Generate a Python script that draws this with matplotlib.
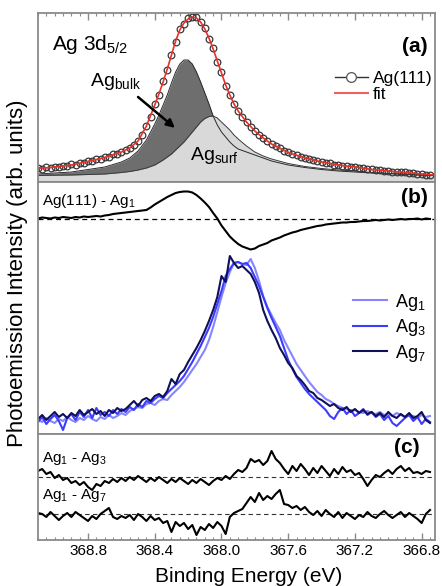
import numpy as np
import matplotlib
import matplotlib.pyplot as plt
from matplotlib.lines import Line2D
from matplotlib.ticker import MultipleLocator

matplotlib.use('Agg')
plt.rcParams['font.family'] = ['Liberation Sans', 'DejaVu Sans']
plt.rcParams['mathtext.default'] = 'regular'

# binding energy grid of the measured spectra (eV)
energy = np.linspace(369.1, 366.75, 95)

# (a) Ag(111) 3d5/2, measured points
ag111 = [14, 13.5, 14.8, 14.3, 15.4, 15.2, 16.5, 16.2, 17.6, 17.5,
         19.3, 19.4, 21.2, 21, 22.9, 23.2, 25.1, 25.4, 27.6, 28.3,
         30.4, 31.6, 34.5, 37.2, 41.5, 47.5, 56.4, 65.5, 77.6, 87.5,
         100.6, 112.4, 127.5, 140.3, 152.6, 158.5, 163.8, 164.6, 165.2, 159.6,
         153.7, 143.4, 133.6, 120.5, 109.6, 96.4, 87.5, 77.6, 71.4, 65,
         60.5, 55.1, 51.4, 47.2, 44.4, 40.6, 38.3, 35.6, 34.2, 31.3,
         29.8, 27.8, 27.1, 25.2, 24.3, 22.8, 22.2, 20.7, 20.3, 19.1,
         18.7, 17.5, 17.2, 16.3, 16.2, 15.3, 15.2, 14.2, 14, 12.9,
         12.7, 11.9, 12, 11.2, 11.2, 10.4, 10.5, 9.7, 9.7, 8.9,
         9, 8.2, 8.2, 7.5, 7.5]

# (a) fit and its two components
fit_energy = [369.10, 369.00, 368.90, 368.80, 368.70, 368.60, 368.55, 368.50, 368.45, 368.40,
              368.375, 368.35, 368.325, 368.30, 368.275, 368.25, 368.225, 368.20, 368.175, 368.15,
              368.125, 368.10, 368.075, 368.05, 368.025, 368.00, 367.975, 367.95, 367.925, 367.90,
              367.85, 367.80, 367.75, 367.70, 367.60, 367.50, 367.40, 367.30, 367.20, 367.10,
              367.00, 366.90, 366.80, 366.72]
fit = [13.5, 15, 17, 20.5, 24.5, 30, 34, 41, 56, 77,
       88, 100, 113, 127, 141, 152, 159, 163, 165, 164,
       160, 153, 144, 133, 121, 109, 97, 87, 78, 71,
       60, 51, 44, 38, 29.5, 24, 20, 17, 15, 12.5,
       11, 9.5, 8, 7]
bulk = [8, 9, 10, 12.5, 15, 20, 24, 31, 42, 58,
        67, 77, 87, 99, 110, 118, 122, 122, 118, 110,
        100, 89, 78, 66, 57, 50, 45, 40, 36, 33,
        30, 27, 24, 21, 17, 14.5, 12.5, 11, 10, 9,
        8.5, 7.5, 7, 6.5]
surf = [6.5, 6.8, 7, 7.5, 8, 9.5, 10.5, 12, 14, 17,
        19.5, 22, 25, 28, 32, 36, 40, 45, 50, 55,
        60, 63.5, 65.5, 66, 64, 60, 56, 52, 47, 43,
        36, 30, 26, 23, 18.5, 15.5, 13.5, 12, 11, 9.5,
        8.5, 8, 7, 6.5]

# (b) difference Ag(111) - Ag1
diff_111_1 = [0, 1, 0.5, 0, 1, 0.5, 1.5, 1, 0.5, 1.5,
              1, 2, 1.5, 2, 2.5, 2, 3, 3.5, 4.5, 5,
              5.5, 6, 6.5, 7, 7.5, 8, 8.5, 11, 14, 16.5,
              19, 21.5, 23.5, 25.5, 26.5, 27, 27, 26, 23.5, 20,
              16, 11.5, 5.5, 0, -7, -12.5, -18, -22, -25.5, -28,
              -29.5, -31, -30, -27.5, -26, -24.5, -22, -20.5, -19, -17,
              -15.5, -14, -13, -11.5, -10.5, -9.5, -8.5, -7.5, -7, -6,
              -5.5, -5, -4.5, -4, -4, -3.5, -3.5, -3, -2.5, -2.5,
              -2, -1.5, -2, -1.5, -1, -1.5, -1, -0.5, -1, -0.5,
              -0.5, 0, -1, 0, -0.5]

# (b) Ag_n spectra
ag1 = [14, 12, 16, 13, 11, 15, 13, 17, 14, 12,
       16, 14, 18, 15, 13, 17, 15, 19, 16, 18,
       21, 19, 23, 25, 27, 26, 30, 31, 29, 33,
       35, 34, 39, 43, 47, 52, 58, 64, 70, 77,
       84, 94, 107, 122, 137, 151, 162, 171, 172, 170,
       169, 175, 166, 153, 138, 127, 119, 111, 104, 94,
       86, 78, 70, 64, 58, 52, 47, 42, 39, 35,
       33, 30, 28, 26, 25, 23, 24, 22, 21, 23,
       21, 20, 22, 19, 20, 18, 21, 19, 17, 19,
       18, 16, 19, 17, 18]
ag3 = [12, 17, 10, 15, 19, 13, 4, 16, 20, 14,
       22, 17, 24, 16, 26, 19, 22, 18, 24, 20,
       25, 22, 27, 24, 30, 27, 33, 31, 35, 38,
       36, 41, 45, 49, 53, 58, 65, 72, 80, 88,
       97, 106, 117, 130, 143, 158, 165, 171, 172, 170,
       171, 166, 157, 148, 137, 126, 116, 107, 98, 86,
       74, 65, 57, 51, 45, 40, 36, 32, 28, 24,
       18, 15, 22, 26, 20, 24, 18, 21, 25, 19,
       22, 17, 20, 14, 18, 11, 8, 12, 16, 19,
       13, 17, 10, 15, 12]
ag7 = [15, 19, 14, 18, 22, 17, 20, 16, 21, 18,
       24, 19, 22, 25, 20, 23, 18, 24, 21, 26,
       23, 25, 29, 33, 28, 34, 36, 33, 38, 40,
       37, 43, 55, 50, 60, 64, 72, 79, 86, 94,
       103, 113, 124, 137, 158, 152, 178, 171, 166, 168,
       164, 160, 152, 141, 124, 113, 104, 96, 86, 79,
       71, 66, 58, 54, 49, 43, 41, 36, 34, 31,
       28, 30, 26, 24, 27, 22, 25, 21, 24, 20,
       22, 18, 21, 17, 22, 18, 16, 20, 17, 21,
       16, 18, 22, 14, 11]

# (c) differences Ag1 - Ag3 and Ag1 - Ag7
diff_1_3 = [6, 8, 3, 5, -1, 2, -3, -1, -6, -4,
            -8, -5, -10, -13, -7, -9, -4, -6, -2, -5,
            -1, -4, 0, -3, 1, -2, -5, -1, -4, 0,
            -3, -6, -2, -5, -1, -4, -7, -3, -6, -2,
            -5, -8, -4, -1, -3, 1, -2, 3, 7, 5,
            9, 18, 15, 17, 12, 16, 26, 18, 14, 8,
            3, 11, 6, 13, 8, 2, 9, 4, 11, 6,
            1, 8, 3, 10, 5, 7, 2, 4, -2, -9,
            -3, 2, 0, 4, 7, 3, 8, 11, 6, 9,
            4, 5, 3, 6, 5]
diff_1_7 = [1, 0, -3, 2, -2, -6, -2, 1, -3, 2,
            -1, -4, -7, -2, -5, 0, 3, 6, -3, -5,
            -2, -4, -1, -6, 0, -3, -7, -2, -6, -4,
            -9, -7, -18, -8, -12, -9, -15, -11, -21, -13,
            -16, -10, -14, -8, -12, -20, -3, 1, 3, 5,
            11, 17, 12, 21, 14, 18, 15, 20, 24, 10,
            9, 6, 8, 4, 7, 2, -1, 3, -2, 4,
            0, -3, 2, -4, 1, -2, -5, -1, -3, 2,
            -2, -4, 0, 3, -1, -4, -1, 2, -3, 1,
            -2, -5, -9, 0, 4]

# vertical offsets used to stack the difference curves
offset_b = 215.5
offset_13 = 63
offset_17 = 26

FRAME = '#8a8a8a'


def style_axes(ax, top_ymax):
    ax.set_xlim(369.1, 366.72)
    ax.set_ylim(0, top_ymax)
    ax.set_yticks([])
    for s in ax.spines.values():
        s.set_color(FRAME)
        s.set_linewidth(1.3)
    ax.xaxis.set_major_locator(MultipleLocator(0.4))
    ax.xaxis.set_minor_locator(MultipleLocator(0.05))
    ax.tick_params(axis='x', which='both', direction='in', color=FRAME,
                   top=False, bottom=False, labelbottom=False)
    ax.tick_params(axis='x', which='major', length=5, width=1)
    ax.tick_params(axis='x', which='minor', length=2.5, width=0.8)


def make_plot():
    fig = plt.figure(figsize=(4.42, 5.86), dpi=100)
    left, width = 38 / 442, 397 / 442
    ax_a = fig.add_axes([left, 1 - 182 / 586, width, 169 / 586])
    ax_b = fig.add_axes([left, 1 - 434 / 586, width, 252 / 586])
    ax_c = fig.add_axes([left, 1 - 540 / 586, width, 106 / 586])

    # panel (a)
    style_axes(ax_a, 169)
    ax_a.tick_params(axis='x', which='both', top=True)
    ax_a.fill_between(fit_energy, 0, bulk, color='#6e6e6e', lw=0)
    ax_a.plot(fit_energy, bulk, color='#2a2a2a', lw=0.7)
    ax_a.fill_between(fit_energy, 0, surf, color='#d9d9d9', lw=0)
    ax_a.plot(fit_energy, surf, color='#3a3a3a', lw=0.7)
    ax_a.plot(energy, ag111, 'o', mfc='none', mec='#383838', ms=4.8, mew=0.9)
    ax_a.plot(fit_energy, fit, color='#e8302a', lw=1.2)
    handles = [Line2D([], [], color='#333333', lw=1, marker='o', mfc='white',
                      mec='#555555', ms=7, mew=0.9),
               Line2D([], [], color='#f06060', lw=1.5)]
    ax_a.legend(handles, ['Ag(111)', 'fit'], loc='upper left',
                bbox_to_anchor=(0.748, 0.655), frameon=False, fontsize=12.5,
                borderpad=0, borderaxespad=0, handlelength=1.9,
                handletextpad=0.3, labelspacing=0.05)
    ax_a.text(0.035, 0.78, 'Ag 3d$_{5/2}$', transform=ax_a.transAxes, fontsize=15)
    ax_a.text(0.982, 0.80, '(a)', transform=ax_a.transAxes, fontsize=15,
              fontweight='bold', ha='right', va='center')
    ax_a.text(0.131, 0.568, 'Ag$_{bulk}$', transform=ax_a.transAxes, fontsize=14)
    ax_a.text(0.383, 0.13, 'Ag$_{surf}$', transform=ax_a.transAxes, fontsize=14)
    ax_a.annotate('', xy=(0.345, 0.32), xytext=(0.252, 0.503),
                  xycoords='axes fraction',
                  arrowprops=dict(arrowstyle='-|>', color='black', lw=1.8,
                                  mutation_scale=12, shrinkA=0, shrinkB=0))

    # panel (b)
    style_axes(ax_b, 252)
    ax_b.axhline(offset_b, color='black', lw=0.9, ls=(0, (4, 3)))
    ax_b.plot(energy, offset_b + np.array(diff_111_1), color='black', lw=1.5)
    ax_b.plot(energy, ag1, color='#8585ff', lw=1.5, label='Ag$_1$')
    ax_b.plot(energy, ag3, color='#3c3cff', lw=1.5, label='Ag$_3$')
    ax_b.plot(energy, ag7, color='#10105a', lw=1.5, label='Ag$_7$')
    ax_b.legend(loc='upper left', bbox_to_anchor=(0.793, 0.565), frameon=False,
                fontsize=13, borderpad=0, borderaxespad=0, handlelength=1.9,
                handletextpad=0.45, labelspacing=0.25)
    ax_b.text(0.01, 0.909, 'Ag(111) - Ag$_1$', transform=ax_b.transAxes, fontsize=11)
    ax_b.text(0.982, 0.94, '(b)', transform=ax_b.transAxes, fontsize=15,
              fontweight='bold', ha='right', va='center')

    # panel (c)
    style_axes(ax_c, 106)
    ax_c.tick_params(axis='x', which='both', bottom=True, labelbottom=True)
    ax_c.tick_params(axis='x', labelsize=11, pad=3)
    ax_c.axhline(offset_13, color='#333333', lw=0.8, ls=(0, (4, 3)))
    ax_c.axhline(offset_17, color='#333333', lw=0.8, ls=(0, (4, 3)))
    ax_c.plot(energy, offset_13 + np.array(diff_1_3), color='black', lw=1.5)
    ax_c.plot(energy, offset_17 + np.array(diff_1_7), color='black', lw=1.5)
    ax_c.text(0.01, 0.736, 'Ag$_1$ - Ag$_3$', transform=ax_c.transAxes, fontsize=11)
    ax_c.text(0.01, 0.387, 'Ag$_1$ - Ag$_7$', transform=ax_c.transAxes, fontsize=11)
    ax_c.text(0.962, 0.877, '(c)', transform=ax_c.transAxes, fontsize=15,
              fontweight='bold', ha='right', va='center')

    fig.text(18 / 442, 1 - 273 / 586, 'Photoemission Intensity (arb. units)',
             rotation=90, ha='center', va='center', fontsize=16)
    fig.text(249 / 442, 1 - 577 / 586, 'Binding Energy (eV)',
             ha='center', va='center', fontsize=15)

    fig.savefig('out.png', dpi=100)
    plt.close(fig)


if __name__ == '__main__':
    make_plot()
